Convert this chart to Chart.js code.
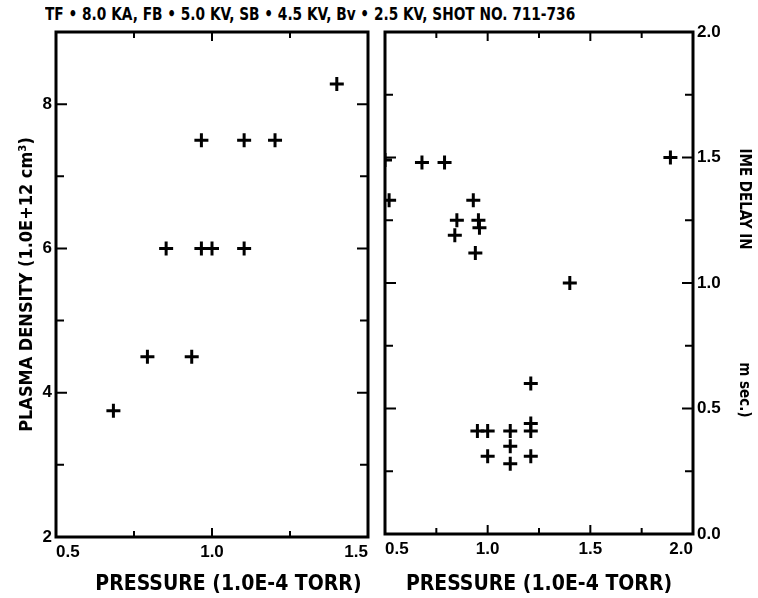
<!DOCTYPE html>
<html>
<head>
<meta charset="utf-8">
<script src="https://cdn.jsdelivr.net/npm/chart.js@4/dist/chart.umd.min.js"></script>
<style>
  body { margin: 0; background: #fff; width: 758px; height: 598px; position: relative; overflow: hidden; }
  #title { position: absolute; left: 45px; top: 3px; white-space: nowrap; font: bold 16px 'DejaVu Sans Condensed', 'DejaVu Sans', sans-serif; color: #000; transform-origin: 0 0; }
  .panel { position: absolute; top: 0; height: 598px; }
  #leftPanel { left: 0; width: 380px; }
  #rightPanel { left: 375px; width: 383px; }
</style>
</head>
<body>
<div id="title">TF • 8.0 KA,  FB • 5.0 KV,  SB • 4.5 KV,  Bv • 2.5 KV,  SHOT NO. 711-736</div>
<div class="panel" id="leftPanel"><canvas id="leftChart" width="380" height="598"></canvas></div>
<div class="panel" id="rightPanel"><canvas id="rightChart" width="383" height="598"></canvas></div>
<script>
// left panel: plasma density vs pressure
const densityPressure = [1.40, 0.966, 1.103, 1.202, 0.853, 0.966, 1.0, 1.103, 0.793, 0.935, 0.684];
const densityValues = [8.28, 7.5, 7.5, 7.5, 6.0, 6.0, 6.0, 6.0, 4.5, 4.5, 3.75];

// right panel: time delay vs pressure
const delayPressure = [0.5, 0.68, 0.79, 1.89, 0.52, 0.93, 0.85, 0.84, 0.955, 0.96, 0.94, 1.40,
  1.21, 0.95, 1.0, 1.11, 1.21, 1.21, 1.0, 1.11, 1.11, 1.21];
const delayValues = [1.49, 1.48, 1.48, 1.5, 1.33, 1.33, 1.25, 1.19, 1.25, 1.22, 1.12, 1.0,
  0.60, 0.41, 0.41, 0.41, 0.44, 0.41, 0.31, 0.35, 0.28, 0.31];

const leftXTicks = ['0.5', '1.0', '1.5'];
const rightXTicks = ['0.5', '1.0', '1.5', '2.0'];
const densityTicks = ['2', '4', '6', '8'];
const delayTicks = ['0.0', '0.5', '1.0', '1.5', '2.0'];

const xTitle = 'PRESSURE (1.0E-4 TORR)';
const densityTitle = 'PLASMA DENSITY (1.0E+12 cm\u00B3)';
const delayTitle = 'IME DELAY IN                        m sec.)';

const heavy = "'DejaVu Sans Condensed', 'DejaVu Sans', sans-serif";
const tickFont = { family: "'Liberation Sans', Arial, sans-serif", size: 17, weight: 'bold' };
const xTitleFont = { family: heavy, size: 21, weight: 'bold' };

// squeeze the heading into the width it has in the scan
const titleEl = document.getElementById('title');
titleEl.style.transform = 'scale(' + (530 / titleEl.offsetWidth) + ', 1.1)';

function findLabel(list, v) {
  return list.find(t => Math.abs(parseFloat(t) - v) < 1e-6);
}

function labelIf(list) {
  return (v) => findLabel(list, v) || '';
}

// box around the plot with inward tick marks on all four sides
const frameTicks = {
  id: 'frameTicks',
  afterDraw(chart) {
    const { ctx, chartArea: a, scales } = chart;
    const xs = scales.x;
    const ys = scales.y;
    const xl = chart.options.plugins.frameTicks.xLabels;
    const yl = chart.options.plugins.frameTicks.yLabels;
    ctx.save();
    ctx.strokeStyle = '#000';
    ctx.lineWidth = 2;
    xs.ticks.forEach(t => {
      const px = xs.getPixelForValue(t.value);
      const len = findLabel(xl, t.value) ? 9 : 6;
      ctx.beginPath();
      ctx.moveTo(px, a.top); ctx.lineTo(px, a.top + len);
      ctx.moveTo(px, a.bottom); ctx.lineTo(px, a.bottom - len);
      ctx.stroke();
    });
    ys.ticks.forEach(t => {
      const py = ys.getPixelForValue(t.value);
      const len = findLabel(yl, t.value) ? 11 : 8;
      ctx.beginPath();
      ctx.moveTo(a.left, py); ctx.lineTo(a.left + len, py);
      ctx.moveTo(a.right, py); ctx.lineTo(a.right - len, py);
      ctx.stroke();
    });
    ctx.lineWidth = 3;
    ctx.strokeRect(a.left, a.top, a.right - a.left, a.bottom - a.top);
    ctx.restore();
  }
};

function makeChart(id, xs, ys, cfg) {
  const points = xs.map((x, i) => ({ x: x, y: ys[i] }));
  return new Chart(document.getElementById(id), {
    type: 'scatter',
    data: {
      datasets: [{
        data: points,
        pointStyle: 'cross',
        pointRadius: 7,
        borderWidth: 3,
        borderColor: '#000',
        backgroundColor: '#000',
        clip: 0
      }]
    },
    options: {
      responsive: false,
      animation: false,
      events: [],
      layout: { padding: cfg.padding },
      plugins: {
        legend: { display: false },
        tooltip: { enabled: false },
        frameTicks: { xLabels: cfg.xLabels, yLabels: cfg.yLabels }
      },
      scales: {
        x: {
          type: 'linear',
          min: 0.5,
          max: cfg.xMax,
          grid: { display: false, drawTicks: false },
          border: { display: false },
          ticks: { stepSize: 0.25, color: '#000', font: tickFont, padding: 5, align: 'inner', maxRotation: 0, autoSkip: false, callback: labelIf(cfg.xLabels) },
          title: { display: true, text: cfg.xTitle, color: '#000', font: xTitleFont, padding: { top: 0, bottom: 1 } },
          afterFit: (s) => { s.height = cfg.xHeight; }
        },
        y: {
          type: 'linear',
          position: cfg.yPos,
          min: cfg.yMin,
          max: cfg.yMax,
          grid: { display: false, drawTicks: false },
          border: { display: false },
          ticks: { stepSize: cfg.yStep, color: '#000', font: tickFont, padding: 4, autoSkip: false, callback: labelIf(cfg.yLabels) },
          title: { display: true, text: cfg.yTitle, color: '#000', font: cfg.yTitleFont, padding: { top: cfg.yTitlePad, bottom: 0 } },
          afterFit: (s) => { s.width = cfg.yWidth; }
        }
      }
    },
    plugins: [frameTicks]
  });
}

makeChart('leftChart', densityPressure, densityValues, {
  padding: { left: 0, top: 32, right: 12, bottom: 0 },
  xMax: 1.5, xLabels: leftXTicks, xHeight: 61, xTitle: '     ' + xTitle,
  yPos: 'left', yMin: 2, yMax: 9, yStep: 1, yLabels: densityTicks,
  yTitle: densityTitle, yTitleFont: { family: heavy, size: 18, weight: 'bold' }, yTitlePad: 17, yWidth: 56
});

makeChart('rightChart', delayPressure, delayValues, {
  padding: { left: 8, top: 32, right: 0, bottom: 0 },
  xMax: 2.0, xLabels: rightXTicks, xHeight: 64, xTitle: xTitle,
  yPos: 'right', yMin: 0, yMax: 2, yStep: 0.25, yLabels: delayTicks,
  yTitle: delayTitle, yTitleFont: { family: heavy, size: 15, weight: 'bold' }, yTitlePad: 5, yWidth: 65
});
</script>
</body>
</html>
